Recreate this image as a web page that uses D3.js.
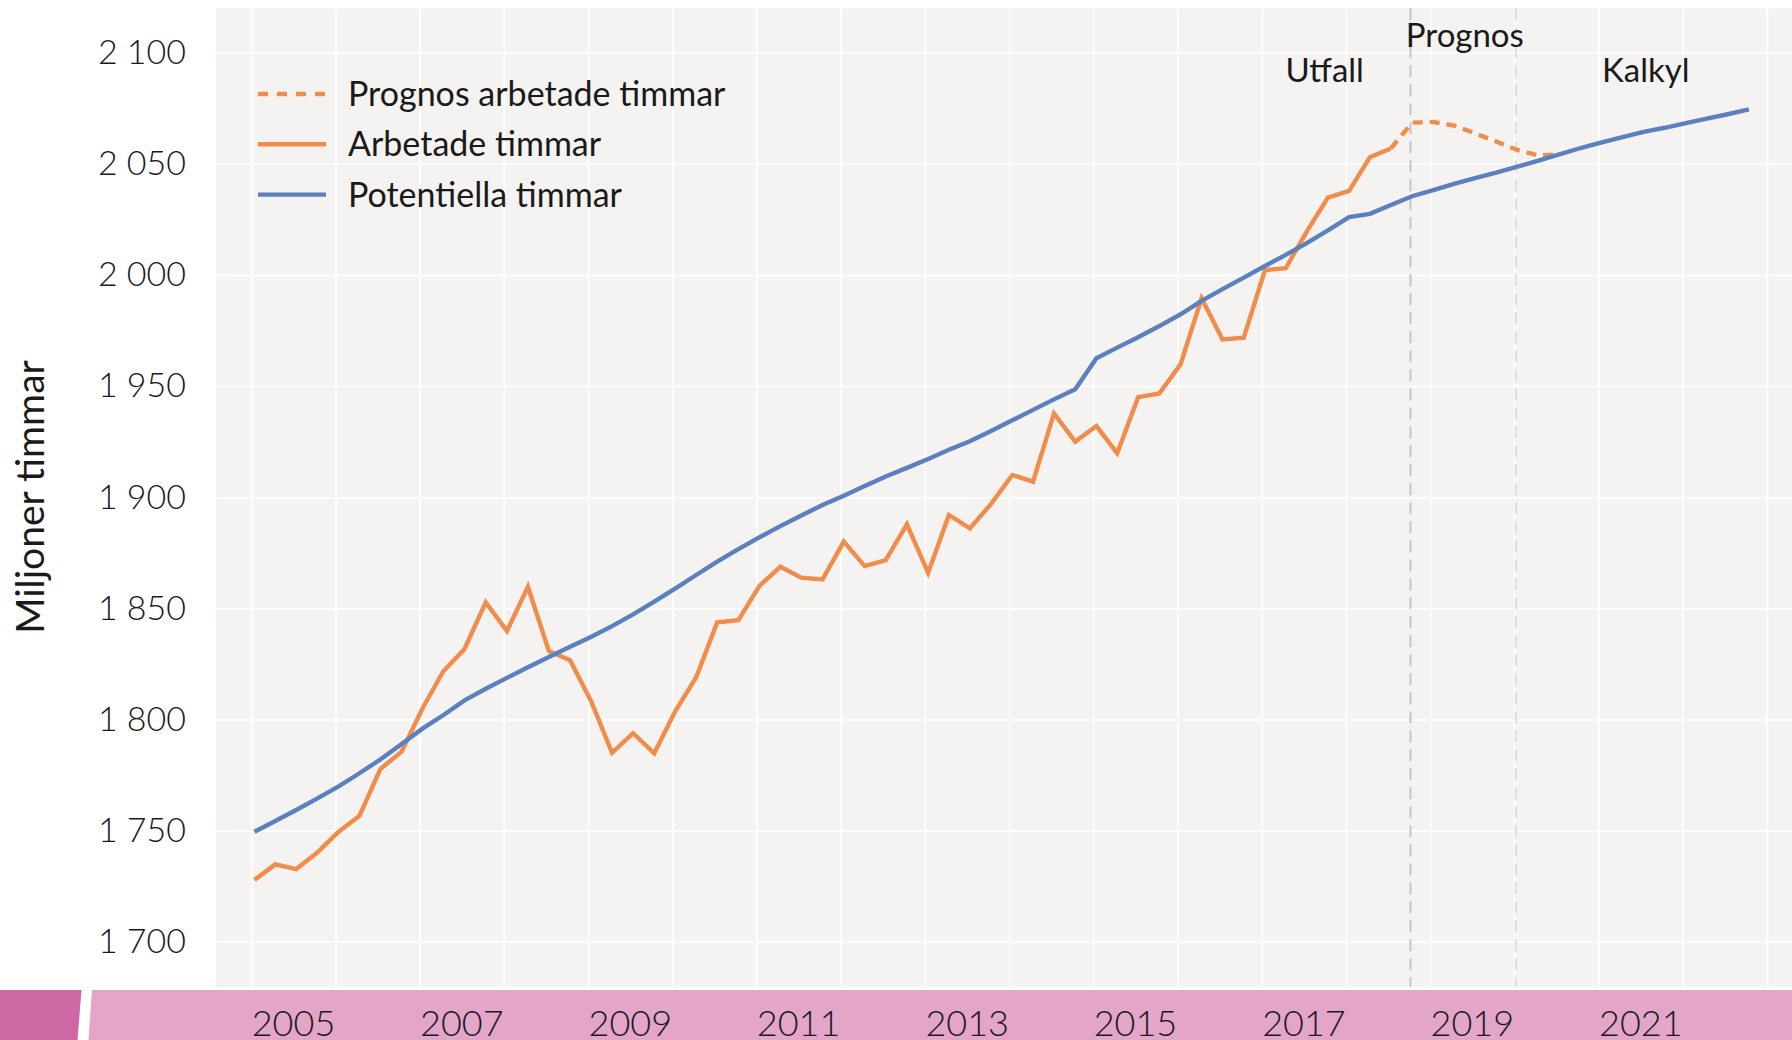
<!DOCTYPE html>
<html>
<head>
<meta charset="utf-8">
<script src="https://cdn.jsdelivr.net/npm/d3@7"></script>
<style>
  body { margin: 0; background: #ffffff; overflow: hidden; }
  text { font-family: Lato, "Open Sans", sans-serif; fill: #1a1a1a; }
</style>
</head>
<body>
<div id="chart"></div>
<script>
// Quarterly data, first value = 2005 Q1
var firstYear = 2005;

// Potentiella timmar, 2005Q1 - 2022Q4
var potentiella = [
  1749.5, 1754.3, 1759.3, 1764.5,
  1769.9, 1775.8, 1782.0, 1789.0,
  1796.0, 1802.0, 1808.6, 1813.8,
  1818.7, 1823.5, 1828.1, 1832.7,
  1837.2, 1842.0, 1847.3, 1853.0,
  1859.0, 1865.0, 1871.0, 1876.6,
  1882.0, 1887.0, 1891.8, 1896.5,
  1900.7, 1905.0, 1909.3, 1913.2,
  1917.2, 1921.3, 1925.2, 1929.8,
  1934.6, 1939.3, 1944.0, 1948.6,
  1962.5, 1967.3, 1972.0, 1977.0,
  1982.3, 1988.3, 1993.6, 1998.8,
  2004.0, 2009.0, 2014.3, 2020.0,
  2026.0, 2027.5, 2031.5, 2035.4,
  2038.2, 2041.0, 2043.6, 2046.0,
  2048.7, 2051.4, 2054.2, 2057.1,
  2059.6, 2062.0, 2064.4, 2066.2,
  2068.3, 2070.3, 2072.3, 2074.5
];

// Arbetade timmar (utfall), 2005Q1 - 2018Q3
var arbetade = [
  1727.8, 1734.8, 1732.7, 1740.2,
  1749.5, 1756.6, 1777.7, 1785.5,
  1805.3, 1821.8, 1831.7, 1852.7,
  1839.8, 1859.7, 1830.8, 1826.7,
  1808.0, 1785.0, 1793.8, 1784.8,
  1803.9, 1819.0, 1843.7, 1844.7,
  1860.2, 1868.7, 1863.8, 1863.0,
  1880.0, 1869.0, 1871.7, 1887.8,
  1866.0, 1892.0, 1886.0, 1897.0,
  1910.0, 1907.0, 1937.7, 1925.0,
  1932.0, 1919.8, 1945.0, 1946.7,
  1959.8, 1989.5, 1971.0, 1971.8,
  2002.2, 2003.0, 2019.5, 2034.8,
  2037.8, 2052.9, 2056.9
];

// Prognos arbetade timmar, 2018Q3 - 2020Q3
var prognosStart = 54; // index of 2018Q3
var prognos = [2056.9, 2068.5, 2068.8, 2067.2, 2063.7, 2060.0, 2056.2, 2053.8, 2054.2];

var yTicks = [1700, 1750, 1800, 1850, 1900, 1950, 2000, 2050, 2100];
var yearLabels = [2005, 2007, 2009, 2011, 2013, 2015, 2017, 2019, 2021];
var gridYears = d3.range(2005, 2024);
var seriesNames = ["Prognos arbetade timmar", "Arbetade timmar", "Potentiella timmar"];
var periodNames = ["Utfall", "Prognos", "Kalkyl"];

var svgWidth = 1792;
var svgHeight = 1040;

var orange = "#f28c4a";
var blue = "#5b80c0";

var svg = d3.select("#chart")
    .append("svg")
    .attr("width", svgWidth)
    .attr("height", svgHeight);

// panel edges
var panelLeft = 216, panelRight = 1792, panelTop = 8.2, panelBottom = 986.7;

// quarter index -> date (middle of first month in quarter)
function qDate(i) {
    return new Date(firstYear + Math.floor(i / 4), (i % 4) * 3, 15);
}

var x = d3.scaleTime()
    .domain([new Date(2004, 7, 1), new Date(2023, 3, 20)])
    .range([panelLeft, panelRight]);

var y = d3.scaleLinear()
    .domain([1680, 2120])
    .range([986.2, 8.2]);

// grey panel
svg.append("rect")
    .attr("x", panelLeft)
    .attr("y", panelTop)
    .attr("width", panelRight - panelLeft)
    .attr("height", panelBottom - panelTop)
    .attr("fill", "#f4f3f1");

// gridlines
var gridY = svg.append("g")
    .attr("transform", `translate(${panelLeft},0)`)
    .call(d3.axisLeft(y).tickValues(yTicks).tickSize(-(panelRight - panelLeft)).tickFormat(""));
var gridX = svg.append("g")
    .attr("transform", `translate(0,${panelBottom})`)
    .call(d3.axisBottom(x).tickValues(gridYears.map(d => new Date(d, 0, 1))).tickSize(-(panelBottom - panelTop)).tickFormat(""));
[gridY, gridX].forEach(function(g) {
    g.select(".domain").remove();
    g.selectAll("line").attr("stroke", "#ffffff").attr("stroke-width", 1.6);
});

// period markers
var markers = [
    {date: new Date(2018, 9, 8), color: "#c9c3c3"},
    {date: new Date(2020, 0, 8), color: "#dfdbdb"}
];
svg.selectAll(".marker")
    .data(markers)
    .enter().append("line")
    .attr("class", "marker")
    .attr("x1", d => x(d.date))
    .attr("x2", d => x(d.date))
    .attr("y1", panelTop)
    .attr("y2", panelBottom)
    .attr("stroke", d => d.color)
    .attr("stroke-width", 2)
    .attr("stroke-dasharray", "12,7");

// lines
var line = d3.line()
    .x(d => x(d.date))
    .y(d => y(d.value));

var potData = potentiella.map((v, i) => ({date: qDate(i), value: v}));
var arbData = arbetade.map((v, i) => ({date: qDate(i), value: v}));
var progData = prognos.map((v, i) => ({date: qDate(prognosStart + i), value: v}));

svg.append("path")
    .datum(progData)
    .attr("d", line)
    .attr("fill", "none")
    .attr("stroke", orange)
    .attr("stroke-width", 4.4)
    .attr("stroke-dasharray", "10,7");

svg.append("path")
    .datum(arbData)
    .attr("d", line)
    .attr("fill", "none")
    .attr("stroke", orange)
    .attr("stroke-width", 4.4);

svg.append("path")
    .datum(potData)
    .attr("d", line)
    .attr("fill", "none")
    .attr("stroke", blue)
    .attr("stroke-width", 4.4);

// y axis labels
var fmt = d3.formatLocale({decimal: ",", thousands: "\u00a0", grouping: [3], currency: ["", ""]}).format(",");
var yAxis = svg.append("g")
    .attr("transform", `translate(${panelLeft},0)`)
    .call(d3.axisLeft(y).tickValues(yTicks).tickSize(0).tickPadding(30).tickFormat(fmt));
yAxis.select(".domain").remove();
yAxis.selectAll("text")
    .attr("fill", "#1a1a1a")
    .style("font-family", "Lato, sans-serif")
    .style("font-weight", 300)
    .style("font-size", "34px");

// y axis title
svg.append("text")
    .attr("transform", "translate(44,497) rotate(-90)")
    .attr("text-anchor", "middle")
    .style("font-size", "39px")
    .text("Miljoner timmar");

// pink band at the bottom
svg.append("polygon")
    .attr("points", "0,990 81.5,990 77.5,1040 0,1040")
    .attr("fill", "#cd68a5");
svg.append("polygon")
    .attr("points", "92,990 1792,990 1792,1040 88.5,1040")
    .attr("fill", "#e3a5c8");

// x axis labels (centred in each year)
var xAxis = svg.append("g")
    .attr("transform", "translate(0,990)")
    .call(d3.axisBottom(x).tickValues(yearLabels.map(d => new Date(d, 6, 1))).tickSize(0).tickPadding(20).tickFormat(d3.timeFormat("%Y")));
xAxis.select(".domain").remove();
xAxis.selectAll("text")
    .attr("fill", "#1a1a1a")
    .style("font-family", "Lato, sans-serif")
    .style("font-weight", 300)
    .style("font-size", "36px");

// period labels
var periodPos = [
    {date: new Date(2017, 9, 1), value: 2086.7},
    {date: new Date(2019, 5, 1), value: 2102.7},
    {date: new Date(2021, 6, 25), value: 2086.7}
];
svg.selectAll(".period")
    .data(periodNames)
    .enter().append("text")
    .attr("class", "period")
    .attr("x", (d, i) => x(periodPos[i].date))
    .attr("y", (d, i) => y(periodPos[i].value))
    .attr("text-anchor", "middle")
    .style("font-size", "33px")
    .text(d => d);

// legend
var legend = svg.append("g")
    .attr("transform", "translate(258,94)");
var legendStyle = [
    {color: orange, dash: "10,9"},
    {color: orange, dash: null},
    {color: blue, dash: null}
];
seriesNames.forEach(function(name, i) {
    var row = legend.append("g").attr("transform", `translate(0,${i * 50.3})`);
    row.append("line")
        .attr("x1", 0).attr("x2", 68)
        .attr("y1", 0).attr("y2", 0)
        .attr("stroke", legendStyle[i].color)
        .attr("stroke-width", 4.4)
        .attr("stroke-dasharray", legendStyle[i].dash);
    row.append("text")
        .attr("x", 90)
        .attr("y", 12)
        .style("font-size", "34px")
        .text(name);
});
</script>
</body>
</html>
